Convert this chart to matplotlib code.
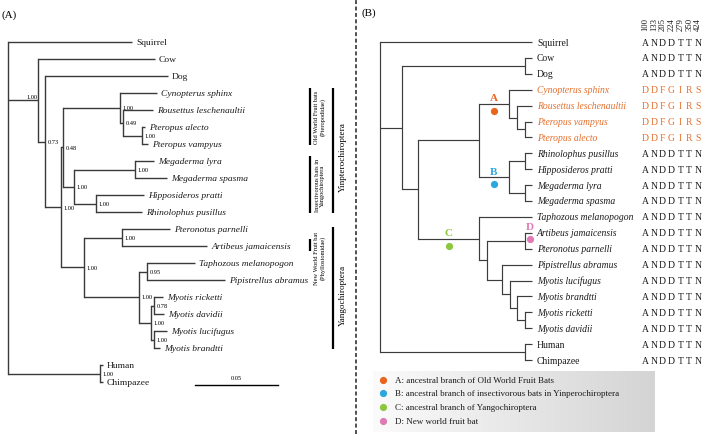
import matplotlib
matplotlib.use("Agg")
import matplotlib.pyplot as plt
import numpy as np
from matplotlib.colors import LinearSegmentedColormap
from matplotlib.lines import Line2D

plt.rcParams['font.family'] = ['Liberation Serif', 'DejaVu Serif']

W, H = 708, 435

# ======================= DATA: panel A (phylogram) =======================
a_taxa = ["Squirrel", "Cow", "Dog", "Cynopterus sphinx", "Rousettus leschenaultii",
          "Pteropus alecto", "Pteropus vampyus", "Megaderma lyra", "Megaderma spasma",
          "Hipposideros pratti", "Rhinolophus pusillus", "Pteronotus parnelli",
          "Artibeus jamaicensis", "Taphozous melanopogon", "Pipistrellus abramus",
          "Myotis ricketti", "Myotis davidii", "Myotis lucifugus", "Myotis brandtti",
          "Human", "Chimpazee"]
# distance of each tip from the root (substitutions / site)
a_tip_depth = [0.0747, 0.0886, 0.0964, 0.0898, 0.0873, 0.0825, 0.0843, 0.0880, 0.0958,
               0.0819, 0.0807, 0.0976, 0.1199, 0.1127, 0.1307, 0.0934, 0.0940, 0.0958,
               0.0916, 0.0572, 0.0572]
a_node_ids = ["N0", "N1", "N2", "N3", "N4", "N5", "N6", "N7", "N8", "N9", "N10",
              "N11", "N12", "N13", "N14", "N15", "N16", "N17", "N18"]
a_node_depth = [0.0, 0.0181, 0.0223, 0.0319, 0.0331, 0.0675, 0.0693, 0.0807, 0.0398,
                0.0765, 0.0530, 0.0458, 0.0687, 0.0789, 0.0837, 0.0861, 0.0880, 0.0880,
                0.0554]
a_node_support = [None, "1.00", "0.73", "1.00", "0.48", "1.00", "0.49", "1.00", "1.00",
                  "1.00", "1.00", "1.00", "1.00", "1.00", "0.95", "1.00", "0.78", "1.00",
                  "1.00"]
a_node_children = [["Squirrel", "N1", "N18"], ["Cow", "N2"], ["Dog", "N3"], ["N4", "N11"],
                   ["N5", "N8"], ["Cynopterus sphinx", "N6"], ["Rousettus leschenaultii", "N7"],
                   ["Pteropus alecto", "Pteropus vampyus"], ["N9", "N10"],
                   ["Megaderma lyra", "Megaderma spasma"],
                   ["Hipposideros pratti", "Rhinolophus pusillus"], ["N12", "N13"],
                   ["Pteronotus parnelli", "Artibeus jamaicensis"], ["N14", "N15"],
                   ["Taphozous melanopogon", "Pipistrellus abramus"], ["N16", "N17"],
                   ["Myotis ricketti", "Myotis davidii"],
                   ["Myotis lucifugus", "Myotis brandtti"], ["Human", "Chimpazee"]]
a_plain = ["Squirrel", "Cow", "Dog", "Human", "Chimpazee"]
scale_len = 0.05
scale_label = "0.05"
a_clades = [("Old World Fruit bats\n(Pteropodidae)", "Cynopterus sphinx", "Pteropus vampyus", 0),
            ("Insectivorous bats in\nYangochiroptera", "Megaderma lyra", "Rhinolophus pusillus", 0),
            ("Yinpterochiroptera", "Cynopterus sphinx", "Rhinolophus pusillus", 1),
            ("New World Fruit bat\n(Phyllostomidae)", "Artibeus jamaicensis", "Artibeus jamaicensis", 0),
            ("Yangochiroptera", "Pteronotus parnelli", "Myotis brandtti", 1)]

# ======================= DATA: panel B (cladogram) =======================
b_taxa = ["Squirrel", "Cow", "Dog", "Cynopterus sphinx", "Rousettus leschenaultii",
          "Pteropus vampyus", "Pteropus alecto", "Rhinolophus pusillus", "Hipposideros pratti",
          "Megaderma lyra", "Megaderma spasma", "Taphozous melanopogon", "Artibeus jamaicensis",
          "Pteronotus parnelli", "Pipistrellus abramus", "Myotis lucifugus", "Myotis brandtti",
          "Myotis ricketti", "Myotis davidii", "Human", "Chimpazee"]
b_tip_depth = [152] * len(b_taxa)
b_node_ids = ["R", "B1", "CD", "BATS", "YIN", "NA", "RP", "PP", "NB", "RH", "MG",
              "YANG", "Y2", "ND", "Y3", "Y4", "Y5", "Y6", "HC"]
b_node_depth = [0, 22, 145, 38, 99, 129, 137, 145, 129, 145, 145, 99, 107, 145, 122, 130,
                137, 145, 145]
b_node_children = [["Squirrel", "B1", "HC"], ["CD", "BATS"], ["Cow", "Dog"], ["YIN", "YANG"],
                   ["NA", "NB"], ["Cynopterus sphinx", "RP"], ["Rousettus leschenaultii", "PP"],
                   ["Pteropus vampyus", "Pteropus alecto"], ["RH", "MG"],
                   ["Rhinolophus pusillus", "Hipposideros pratti"],
                   ["Megaderma lyra", "Megaderma spasma"], ["Taphozous melanopogon", "Y2"],
                   ["ND", "Y3"], ["Artibeus jamaicensis", "Pteronotus parnelli"],
                   ["Pipistrellus abramus", "Y4"], ["Myotis lucifugus", "Y5"],
                   ["Myotis brandtti", "Y6"], ["Myotis ricketti", "Myotis davidii"],
                   ["Human", "Chimpazee"]]
sites = ["100", "133", "205", "224", "279", "350", "424"]
b_residues = ["ANDDTTN", "ANDDTTN", "ANDDTTN", "DDFGIRS", "DDFGIRS", "DDFGIRS", "DDFGIRS",
              "ANDDTTN", "ANDDTTN", "ANDDTTN", "ANDDTTN", "ANDDTTN", "ANDDTTN", "ANDDTTN",
              "ANDDTTN", "ANDDTTN", "ANDDTTN", "ANDDTTN", "ANDDTTN", "ANDDTTN", "ANDDTTN"]
b_highlight = ["Cynopterus sphinx", "Rousettus leschenaultii", "Pteropus vampyus", "Pteropus alecto"]
marker_letters = ["A", "B", "C", "D"]
marker_nodes = ["NA", "NB", "YANG", "ND"]
marker_colors = ["#E8651E", "#2CA6DF", "#8DC63F", "#E07AB4"]
legend_texts = ["A: ancestral branch of Old World Fruit Bats",
                "B: ancestral branch of insectivorous bats in Yinperochiroptera",
                "C: ancestral branch of Yangochiroptera",
                "D: New world fruit bat"]
ORANGE = "#E4702E"


def layout(taxa, tip_depth, ids, depth, children):
    pos = {t: (d, float(i)) for i, (t, d) in enumerate(zip(taxa, tip_depth))}
    info = dict(zip(ids, zip(depth, children)))
    parent = {}

    def place(n):
        if n in pos:
            return pos[n]
        d, ch = info[n]
        ys = []
        for c in ch:
            parent[c] = n
            ys.append(place(c)[1])
        pos[n] = (d, (ys[0] + ys[-1]) / 2)
        return pos[n]
    place(ids[0])
    return pos, info, parent


def draw_tree(ax, pos, info, color, lw):
    for n, (d, ch) in info.items():
        ys = [pos[c][1] for c in ch]
        ax.plot([d, d], [min(ys), max(ys)], color=color, lw=lw, solid_capstyle='projecting')
        for c in ch:
            ax.plot([d, pos[c][0]], [pos[c][1]] * 2, color=color, lw=lw,
                    solid_capstyle='butt')


fig = plt.figure(figsize=(W / 100, H / 100), dpi=100)

# ----------------------------- panel A -----------------------------
PXU = 83 / scale_len     # pixels per substitution unit
ROWA = 17.0              # pixels per row
axA = fig.add_axes([0, 0, 355 / W, 1])
axA.set_xlim(-8 / PXU, (355 - 8) / PXU)
axA.set_ylim((H - 43) / ROWA, -43 / ROWA)
axA.axis('off')

posA, infoA, parA = layout(a_taxa, a_tip_depth, a_node_ids, a_node_depth, a_node_children)
draw_tree(axA, posA, infoA, '#3a3a3a', 1.0)

for t in a_taxa:
    d, y = posA[t]
    axA.text(d + 4 / PXU, y, t, fontsize=6.8, va='center', ha='left',
             style='normal' if t in a_plain else 'italic', color='#1a1a1a')

for n, s in zip(a_node_ids, a_node_support):
    if s is None:
        continue
    d, y = posA[n]
    if n == "N1":
        axA.text(d - 1 / PXU, y - 4 / ROWA, s, fontsize=4.6, ha='right', va='center')
    else:
        axA.text(d + 2.5 / PXU, y, s, fontsize=4.6, ha='left', va='center')

# clade bars
bar_x_px = [310, 333]
for label, t0, t1, lev in a_clades:
    y0 = posA[t0][1]
    y1 = posA[t1][1]
    if t0 == t1:
        ya, yb = y0 - 7 / ROWA, y0 + 5 / ROWA
    elif lev == 1 and t0 == "Pteronotus parnelli":
        ya, yb = y0 - 2 / ROWA, y1 + 1 / ROWA
    else:
        ya, yb = y0 - 5 / ROWA, y1 + 1 / ROWA
    xb = (bar_x_px[lev] - 8) / PXU
    axA.plot([xb, xb], [ya, yb], color='black', lw=1.6, solid_capstyle='butt')
    if lev == 0:
        xt = (320 - 8) / PXU
        fs = 4.6
        if t0 == t1:
            yc = y0 + 11 / ROWA
        else:
            yc = (ya + yb) / 2
    else:
        xt = (343 - 8) / PXU
        fs = 6.6
        yc = (ya + yb) / 2 + 6 / ROWA
    axA.text(xt, yc, label, rotation=90, fontsize=fs, ha='center', va='center',
             multialignment='center', linespacing=1.1)

# scale bar
sb_x0 = (195 - 8) / PXU
sb_y = (386 - 43) / ROWA
axA.plot([sb_x0, sb_x0 + scale_len], [sb_y, sb_y], color='black', lw=1.0)
axA.text(sb_x0 + scale_len / 2, sb_y - 7 / ROWA, scale_label, fontsize=4.6,
         ha='center', va='center')

# ----------------------------- panel B -----------------------------
ROWB = 15.9
axB = fig.add_axes([356 / W, 0, (W - 356) / W, 1])

posB, infoB, parB = layout(b_taxa, b_tip_depth, b_node_ids, b_node_depth, b_node_children)
draw_tree(axB, posB, infoB, '#3c3c3c', 0.85)

seq_x0, seq_dx = 265, 8.83
for t, res in zip(b_taxa, b_residues):
    d, y = posB[t]
    col = ORANGE if t in b_highlight else '#1a1a1a'
    axB.text(d + 5, y, t, fontsize=6.9, va='center', ha='left', color=col,
             style='normal' if t in a_plain else 'italic')
    for k, ch in enumerate(res):
        axB.text(seq_x0 + k * seq_dx, y, ch, fontsize=6.9, va='center', ha='center', color=col)

for k, s in enumerate(sites):
    axB.text(seq_x0 + k * seq_dx, (31 - 43) / ROWB, s, rotation=90, fontsize=6.2,
             ha='center', va='bottom', color='#1a1a1a')

for letter, node, colr in zip(marker_letters, marker_nodes, marker_colors):
    d, y = posB[node]
    if letter == "D":
        xm, ym = d + 5, y - 2 / ROWB
        yl = ym - 12 / ROWB
    else:
        pd = posB[parB[node]][0]
        xm, ym = (pd + d) / 2, y + 7 / ROWB
        yl = y - 6 / ROWB
    axB.plot([xm], [ym], 'o', color=colr, ms=5.2, mec='none', zorder=5)
    axB.text(xm, yl, letter, color=colr, fontsize=8, ha='center', va='center',
             fontweight='bold')

# legend box with gradient
box_x0, box_x1 = 373 - 380, 655 - 380
box_y0, box_y1 = (372 - 43) / ROWB, (433 - 43) / ROWB
cmap = LinearSegmentedColormap.from_list('g', ['#fbfbfb', '#d4d4d4'])
axB.imshow(np.linspace(0, 1, 256)[None, :], extent=[box_x0, box_x1, box_y1, box_y0],
           cmap=cmap, aspect='auto', zorder=0)
leg_y_px = [381, 394, 408, 422]
for txt, colr, ypx in zip(legend_texts, marker_colors, leg_y_px):
    yy = (ypx - 43) / ROWB
    axB.plot([383 - 380], [yy], 'o', color=colr, ms=5.2, mec='none', zorder=5)
    axB.text(395 - 380, yy, txt, fontsize=6.5, ha='left', va='center', color='#1a1a1a')

axB.set_xlim(356 - 380, W - 380)
axB.set_ylim((H - 43) / ROWB, -43 / ROWB)
axB.axis('off')

# ----------------------------- panel labels & divider -----------------------------
fig.text(2 / W, 1 - 15 / H, "(A)", fontsize=8, ha='left', va='center')
fig.text(362 / W, 1 - 13 / H, "(B)", fontsize=8, ha='left', va='center')
fig.add_artist(Line2D([356 / W, 356 / W], [0, 1], transform=fig.transFigure,
                      color='#222222', lw=1.1, linestyle=(0, (2.6, 1.6))))

fig.savefig("out.png", dpi=100)
